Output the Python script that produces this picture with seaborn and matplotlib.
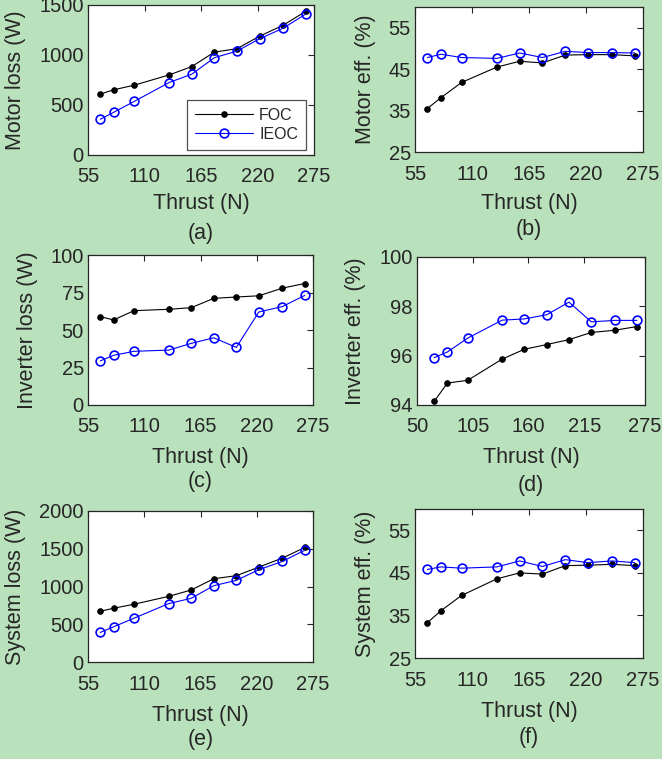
import matplotlib
matplotlib.use("Agg")
import matplotlib.pyplot as plt
import seaborn as sns

sns.set_style("white")
plt.rcParams['font.family'] = ['Liberation Sans', 'DejaVu Sans']

# ---------------- data ----------------
thrust = [67, 80, 100, 134, 156, 178, 200, 222, 245, 267]

motor_loss_foc = [609, 652, 698, 801, 884, 1029, 1063, 1188, 1298, 1437]
motor_loss_ieoc = [357, 427, 536, 725, 808, 973, 1039, 1162, 1268, 1410]

motor_eff_foc = [35.5, 38.1, 41.8, 45.5, 46.9, 46.5, 48.4, 48.5, 48.5, 48.2]
motor_eff_ieoc = [47.8, 48.6, 47.8, 47.6, 48.9, 47.8, 49.3, 49.0, 49.0, 48.9]

inv_loss_foc = [58.9, 56.7, 62.9, 63.8, 64.9, 71.1, 72.0, 72.8, 77.9, 81.0]
inv_loss_ieoc = [29.4, 33.1, 35.8, 36.6, 41.1, 44.8, 38.4, 62.0, 65.6, 73.1]

inv_eff_foc = [94.15, 94.89, 95.00, 95.86, 96.26, 96.45, 96.65, 96.94, 97.03, 97.18]
inv_eff_ieoc = [95.92, 96.15, 96.71, 97.44, 97.49, 97.66, 98.17, 97.37, 97.43, 97.43]

sys_loss_foc = [672, 712, 765, 870, 954, 1103, 1143, 1257, 1376, 1517]
sys_loss_ieoc = [391, 466, 580, 774, 844, 1011, 1081, 1222, 1332, 1481]

sys_eff_foc = [33.3, 36.1, 39.7, 43.6, 45.0, 44.7, 46.7, 46.8, 47.0, 46.7]
sys_eff_ieoc = [45.8, 46.4, 46.1, 46.4, 47.8, 46.5, 48.1, 47.4, 47.8, 47.4]

series_names = ["FOC", "IEOC"]
xticks_std = [55, 110, 165, 220, 275]
xticks_d = [50, 105, 160, 215, 275]

# ---------------- figure ----------------
W, H = 662, 759
fig = plt.figure(figsize=(W / 100, H / 100), dpi=100)
fig.patch.set_facecolor('#B9E1BC')

TXT = '#262626'
TICK_FS = 14.5
LAB_FS = 15.5


def px_axes(l, t, r, b):
    return fig.add_axes([l / W, 1 - b / H, (r - l) / W, (b - t) / H])


panels = [
    ((88, 5, 314, 155), motor_loss_foc, motor_loss_ieoc, (0, 1500), [0, 500, 1000, 1500],
     (55, 275), xticks_std, 'Motor loss (W)', 16, 204, '(a)', 233),
    ((415, 7, 643, 152), motor_eff_foc, motor_eff_ieoc, (25, 60), [25, 35, 45, 55],
     (55, 275), xticks_std, 'Motor eff. (%)', 365, 203, '(b)', 230),
    ((88, 255, 313, 405), inv_loss_foc, inv_loss_ieoc, (0, 100), [0, 25, 50, 75, 100],
     (55, 275), xticks_std, 'Inverter loss (W)', 28, 457, '(c)', 482),
    ((417, 257, 645, 405), inv_eff_foc, inv_eff_ieoc, (94, 100), [94, 96, 98, 100],
     (50, 275), xticks_d, 'Inverter eff. (%)', 355, 458, '(d)', 485),
    ((88, 511, 313, 662), sys_loss_foc, sys_loss_ieoc, (0, 2000), [0, 500, 1000, 1500, 2000],
     (55, 275), xticks_std, 'System loss (W)', 16, 715, '(e)', 740),
    ((415, 509, 643, 658), sys_eff_foc, sys_eff_ieoc, (25, 60), [25, 35, 45, 55],
     (55, 275), xticks_std, 'System eff. (%)', 365, 712, '(f)', 738),
]

for i, (box, foc, ieoc, ylim, yticks, xlim, xticks, ylab, ylx, xly, tag, tagy) in enumerate(panels):
    l, t, r, b = box
    ax = px_axes(l, t, r, b)
    ax.set_facecolor('white')
    sns.lineplot(x=thrust, y=foc, ax=ax, color='black', linewidth=0.8,
                 marker='o', markersize=4, markerfacecolor='black',
                 markeredgecolor='black', label=series_names[0])
    sns.lineplot(x=thrust, y=ieoc, ax=ax, color='#0000FF', linewidth=0.8,
                 marker='o', markersize=6.3, markerfacecolor='none',
                 markeredgecolor='#0000FF', markeredgewidth=1.2, label=series_names[1])
    ax.set_xlim(*xlim)
    ax.set_ylim(*ylim)
    ax.set_xticks(xticks)
    ax.set_yticks(yticks)
    ax.tick_params(direction='in', length=4, width=0.8, top=True, right=True,
                   labelsize=TICK_FS, labelcolor=TXT, color=TXT)
    ax.tick_params(axis='x', pad=9)
    ax.tick_params(axis='y', pad=3)
    for s in ax.spines.values():
        s.set_color(TXT)
        s.set_linewidth(0.9)
    ax.set_xlabel('')
    ax.set_ylabel('')
    cx = (l + r) / 2
    fig.text(cx / W, 1 - xly / H, 'Thrust (N)', ha='center', va='center',
             fontsize=LAB_FS, color=TXT)
    fig.text(cx / W, 1 - tagy / H, tag, ha='center', va='center',
             fontsize=LAB_FS, color=TXT)
    fig.text(ylx / W, 1 - ((t + b) / 2) / H, ylab, ha='center', va='center',
             rotation=90, fontsize=LAB_FS, color=TXT)
    if i == 0:
        leg = ax.legend(loc='lower right', bbox_to_anchor=(0.965, 0.033),
                        borderaxespad=0, fontsize=11.5, frameon=True, fancybox=False,
                        handlelength=3.6, labelspacing=0.25, borderpad=0.5,
                        handletextpad=0.4)
        leg.get_frame().set_edgecolor(TXT)
        leg.get_frame().set_linewidth(0.9)
        for txt in leg.get_texts():
            txt.set_color(TXT)
    else:
        lg = ax.get_legend()
        if lg is not None:
            lg.remove()

fig.savefig('out.png', dpi=100, facecolor=fig.get_facecolor())
